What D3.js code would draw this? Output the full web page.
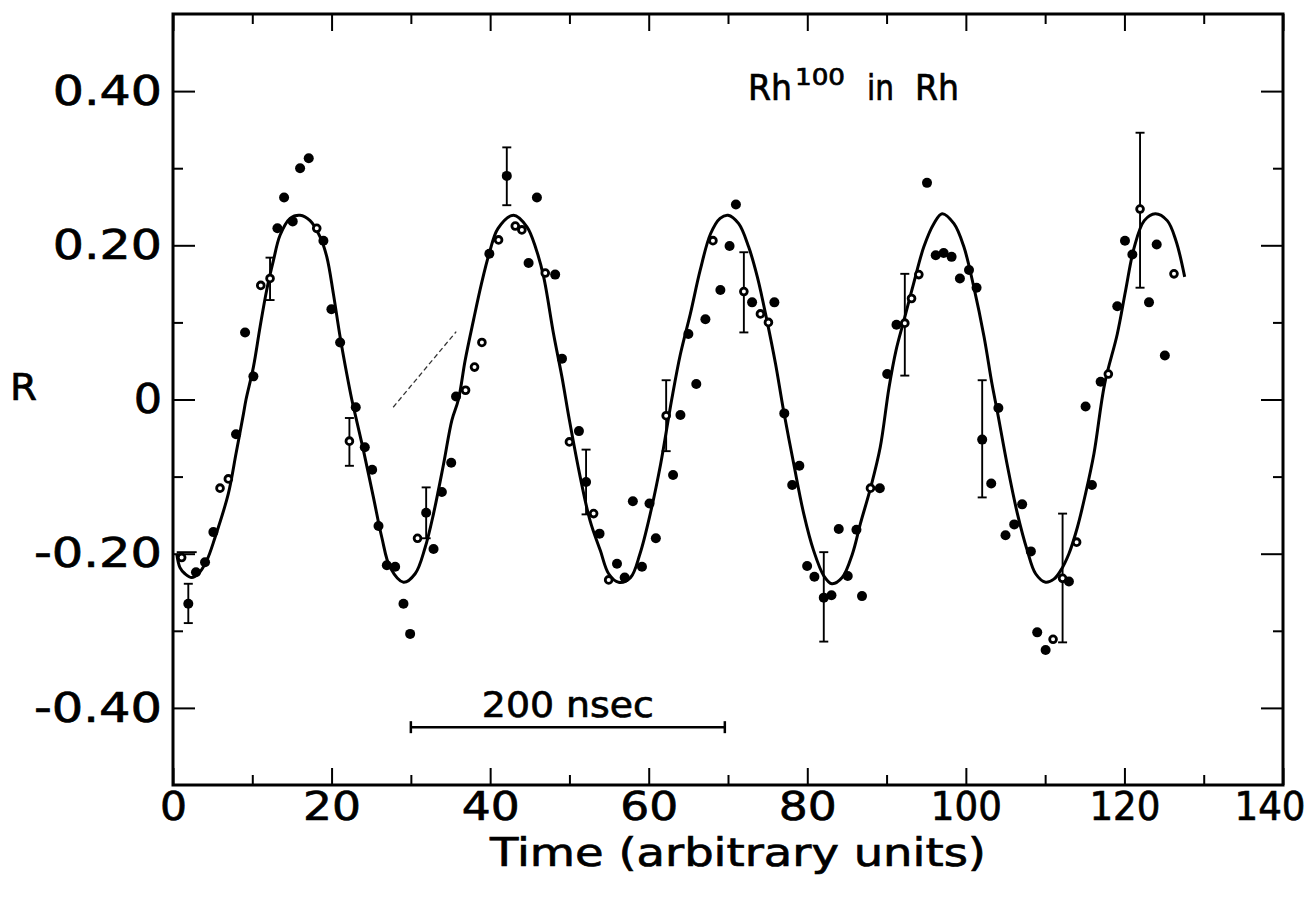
<!DOCTYPE html>
<html><head><meta charset="utf-8">
<script src="https://cdn.jsdelivr.net/npm/d3@7"></script>
<style>body{margin:0;background:#fff}</style>
</head><body><svg id="c" width="1310" height="897"></svg>
<script>
// ---- data ----
const timeValues = [1.09,1.93,2.9,4.04,5.09,5.93,6.98,7.95,9.09,10.14,11.07,12.24,13.17,14.01,15.1,16.03,17.12,18.13,18.97,19.98,
  21.08,22.25,23.05,24.19,25.12,25.92,26.97,28.02,29.07,29.91,30.84,31.93,32.86,33.91,35.09,35.7,36.9,38.03,38.96,39.9,
  41.06,42.1,43.17,44.0,44.85,45.9,46.95,48.2,49.06,50.0,51.2,52.1,53.05,53.8,54.95,56.0,56.97,58.0,59.15,60.1,
  60.9,62.2,63.07,64.0,65.0,66.0,67.15,68.1,69.04,70.2,71.0,72.0,73.04,74.09,75.1,75.85,77.1,78.1,79.0,79.98,
  80.9,82.08,83.05,83.97,85.1,86.2,86.9,87.97,89.15,90.08,91.25,92.3,93.15,94.07,95.1,96.2,97.2,98.2,99.25,100.4,
  101.35,102.06,103.2,104.1,105.0,106.1,107.1,108.2,109.0,110.06,111.0,112.2,113.0,113.97,115.1,115.9,117.0,117.97,119.1,120.07,
  121.0,121.97,123.1,124.07,125.1,126.25];
const rValues = [-0.205,-0.265,-0.224,-0.211,-0.172,-0.115,-0.103,-0.045,0.087,0.030,0.148,0.157,0.222,0.262,0.231,0.300,0.313,0.222,0.206,0.117,
  0.074,-0.054,-0.010,-0.062,-0.091,-0.164,-0.215,-0.217,-0.265,-0.304,-0.180,-0.147,-0.194,-0.120,-0.082,0.004,0.012,0.042,0.074,0.189,
  0.207,0.290,0.225,0.220,0.177,0.262,0.164,0.162,0.053,-0.055,-0.041,-0.107,-0.148,-0.174,-0.234,-0.213,-0.231,-0.132,-0.217,-0.135,
  -0.180,-0.021,-0.098,-0.020,0.085,0.020,0.104,0.206,0.142,0.199,0.253,0.140,0.126,0.111,0.100,0.126,-0.018,-0.111,-0.086,-0.216,
  -0.230,-0.257,-0.254,-0.168,-0.229,-0.169,-0.255,-0.115,-0.115,0.033,0.097,0.099,0.131,0.162,0.281,0.187,0.190,0.185,0.157,0.168,
  0.145,-0.052,-0.109,-0.011,-0.176,-0.162,-0.136,-0.197,-0.302,-0.325,-0.311,-0.232,-0.236,-0.185,-0.009,-0.111,0.023,0.033,0.121,0.206,
  0.188,0.247,0.126,0.201,0.057,0.163];
const openMarker = [1,0,0,0,0,1,1,0,0,0,1,1,0,0,0,0,0,1,0,0,
  0,1,0,0,0,0,0,0,0,0,1,0,0,0,0,0,1,1,1,0,
  1,0,1,1,0,0,1,0,0,1,0,0,1,0,1,0,0,0,0,0,
  0,1,0,0,0,0,0,1,0,0,0,1,0,1,1,0,0,0,0,0,
  0,0,0,0,0,0,0,1,0,0,0,1,1,1,0,0,0,0,0,0,
  0,0,0,0,0,0,0,0,0,0,1,1,0,1,0,0,0,1,0,0,
  0,1,0,0,0,1];
const errTime = [1.93,12.24,22.25,31.93,42.1,52.1,62.2,72.0,82.08,92.3,102.06,112.2,121.97];
const errLow  = [-0.290,0.129,-0.086,-0.180,0.252,-0.149,-0.067,0.087,-0.314,0.031,-0.127,-0.315,0.145];
const errHigh = [-0.239,0.184,-0.024,-0.114,0.327,-0.065,0.025,0.191,-0.198,0.163,0.025,-0.148,0.346];
const fitTime = [0.47,0.88,1.51,2.36,3.2,4.25,5.3,6.98,7.95,8.88,9.21,10.14,10.98,11.82,12.66,13.5,14.77,16.03,17.29,18.55,
  19.4,20.23,21.08,21.92,22.55,22.97,24.02,25.28,26.34,27.39,29.07,30.54,31.8,32.86,34.12,35.17,36.0,36.85,37.9,38.9,
  39.9,41.0,42.95,44.64,45.8,46.75,48.0,49.06,50.0,51.37,52.6,53.9,54.95,56.2,57.7,58.9,60.2,61.5,62.9,64.0,
  65.25,66.5,67.8,69.0,70.0,71.35,72.6,73.7,74.9,76.0,77.0,78.3,79.55,80.8,82.1,83.1,84.4,85.7,86.7,88.0,
  89.2,90.3,91.2,92.2,93.4,94.7,95.96,97.0,98.5,99.75,101.0,102.3,103.3,103.96,105.2,106.5,107.75,108.8,110.06,111.1,
  111.95,113.0,114.06,115.1,116.16,117.5,119.1,120.16,121.2,122.5,123.9,125.4,126.5,127.6];
const fitR = [-0.200,-0.218,-0.226,-0.231,-0.226,-0.209,-0.179,-0.122,-0.070,-0.019,0.000,0.042,0.094,0.142,0.180,0.213,0.235,0.239,0.232,0.211,
  0.185,0.137,0.081,0.033,0.000,-0.019,-0.066,-0.127,-0.179,-0.218,-0.237,-0.226,-0.192,-0.148,-0.084,-0.027,0.000,0.051,0.103,0.150,
  0.190,0.222,0.239,0.224,0.195,0.159,0.085,0.029,-0.027,-0.101,-0.157,-0.196,-0.226,-0.237,-0.231,-0.200,-0.148,-0.084,0.000,0.059,
  0.111,0.168,0.215,0.235,0.239,0.228,0.198,0.159,0.103,0.046,-0.014,-0.084,-0.148,-0.196,-0.229,-0.239,-0.231,-0.200,-0.161,-0.114,
  -0.062,0.015,0.064,0.103,0.150,0.198,0.228,0.241,0.228,0.198,0.146,0.081,0.020,-0.015,-0.084,-0.148,-0.196,-0.226,-0.237,-0.233,
  -0.222,-0.200,-0.166,-0.122,-0.070,0.020,0.085,0.142,0.196,0.232,0.241,0.232,0.206,0.159];
const xTickValues = [0,20,40,60,80,100,120,140];
const xTickLabels = ["0","20","40","60","80","100","120","140"];
const xMinorTicks = [10,30,50,70,90,110,130];
const yTickValues = [-0.4,-0.2,0,0.2,0.4];
const yTickLabels = ["-0.40","-0.20","0","0.20","0.40"];
const yMinorTicks = [-0.3,-0.1,0.1,0.3];
const xTitle = "Time (arbitrary units)";
const yTitle = "R";
const scaleBarStart = 30, scaleBarEnd = 69.6, scaleBarR = -0.425, scaleBarLabel = "200 nsec";
const strayMarkX = [27.77,35.72], strayMarkR = [-0.010,0.088];
const capMarkX = [0.47,2.99], capMarkR = -0.198;

// ---- drawing ----
const W = 1310, H = 897;
const L = 173, R = 1283, T = 14, B = 785;
const svg = d3.select("#c");
const font = "'DejaVu Sans', sans-serif";
const x = d3.scaleLinear().domain([0,140]).range([L,R]);
const y = d3.scaleLinear().domain([-0.5,0.5]).range([B,T]);

function glyphWidth(s, k){
  let w = 0;
  for (const ch of s){ w += ch==='1'?9:ch==='.'?11:ch==='-'?14:27; }
  return (w + 4*(s.length-1))*k;
}
function inkText(sel){ sel.attr("fill","#000").attr("stroke","#000").attr("stroke-width",0.7); }

function styleAxis(g){
  g.select(".domain").remove();
  g.selectAll(".tick line").attr("stroke","#000").attr("stroke-width",2);
}
// bottom
svg.append("g").attr("transform",`translate(0,${B})`)
  .call(d3.axisBottom(x).tickValues(xTickValues).tickSize(-17).tickPadding(7).tickFormat((d,i)=>xTickLabels[i]))
  .call(styleAxis)
  .call(g=>g.selectAll("text").attr("font-family",font).attr("font-size",39).call(inkText)
     .attr("textLength",d=>glyphWidth(xTickLabels[xTickValues.indexOf(d)],1))
     .attr("lengthAdjust","spacingAndGlyphs")
     .attr("dx",d=>{ const w=glyphWidth(xTickLabels[xTickValues.indexOf(d)],1); const over=x(d)+w/2-(W-5); return over>0?-over:0; }));
svg.append("g").attr("transform",`translate(0,${B})`)
  .call(d3.axisBottom(x).tickValues(xMinorTicks).tickSize(-10).tickFormat(""))
  .call(styleAxis);
// top
svg.append("g").attr("transform",`translate(0,${T})`)
  .call(d3.axisTop(x).tickValues(xTickValues).tickSize(-17).tickFormat("")).call(styleAxis);
svg.append("g").attr("transform",`translate(0,${T})`)
  .call(d3.axisTop(x).tickValues(xMinorTicks).tickSize(-10).tickFormat("")).call(styleAxis);
// left
svg.append("g").attr("transform",`translate(${L},0)`)
  .call(d3.axisLeft(y).tickValues(yTickValues).tickSize(-22).tickPadding(11).tickFormat((d,i)=>yTickLabels[i]))
  .call(styleAxis)
  .call(g=>g.selectAll("text").attr("font-family",font).attr("font-size",41).call(inkText)
     .attr("textLength",d=>glyphWidth(yTickLabels[yTickValues.indexOf(d)],1.05)).attr("lengthAdjust","spacingAndGlyphs"));
svg.append("g").attr("transform",`translate(${L},0)`)
  .call(d3.axisLeft(y).tickValues(yMinorTicks).tickSize(-10).tickFormat("")).call(styleAxis);
// right
svg.append("g").attr("transform",`translate(${R},0)`)
  .call(d3.axisRight(y).tickValues(yTickValues).tickSize(-22).tickFormat("")).call(styleAxis);
svg.append("g").attr("transform",`translate(${R},0)`)
  .call(d3.axisRight(y).tickValues(yMinorTicks).tickSize(-10).tickFormat("")).call(styleAxis);

// frame
svg.append("rect").attr("x",L).attr("y",T).attr("width",R-L).attr("height",B-T)
  .attr("fill","none").attr("stroke","#000").attr("stroke-width",3);

// fit curve
const line = d3.line().x(d=>x(d[0])).y(d=>y(d[1])).curve(d3.curveCatmullRom.alpha(0.5));
svg.append("path").datum(fitTime.map((t,i)=>[t,fitR[i]]))
  .attr("d",line).attr("fill","none").attr("stroke","#000").attr("stroke-width",3);

// error bars
const eb = svg.append("g").attr("stroke","#000").attr("stroke-width",1.9);
errTime.forEach((t,i)=>{
  eb.append("line").attr("x1",x(t)).attr("x2",x(t)).attr("y1",y(errLow[i])).attr("y2",y(errHigh[i]));
  eb.append("line").attr("x1",x(t)-4.5).attr("x2",x(t)+4.5).attr("y1",y(errLow[i])).attr("y2",y(errLow[i]));
  eb.append("line").attr("x1",x(t)-4.5).attr("x2",x(t)+4.5).attr("y1",y(errHigh[i])).attr("y2",y(errHigh[i]));
});
eb.append("line").attr("x1",x(capMarkX[0])).attr("x2",x(capMarkX[1])).attr("y1",y(capMarkR)).attr("y2",y(capMarkR));

// points
const pts = timeValues.map((t,i)=>({t, r:rValues[i], open:openMarker[i]}));
svg.append("g").selectAll("circle").data(pts).join("circle")
  .attr("cx",d=>x(d.t)).attr("cy",d=>y(d.r))
  .attr("r",d=>d.open?3.4:5)
  .attr("fill",d=>d.open?"#fff":"#000")
  .attr("stroke","#000").attr("stroke-width",d=>d.open?2.8:0);

// stray dashed mark
svg.append("line").attr("x1",x(strayMarkX[0])).attr("y1",y(strayMarkR[0]))
  .attr("x2",x(strayMarkX[1])).attr("y2",y(strayMarkR[1]))
  .attr("stroke","#333").attr("stroke-width",1.3).attr("stroke-dasharray","5,3");

// scale bar
const sb = svg.append("g").attr("stroke","#000").attr("stroke-width",2.5);
sb.append("line").attr("x1",x(scaleBarStart)).attr("x2",x(scaleBarEnd)).attr("y1",y(scaleBarR)).attr("y2",y(scaleBarR));
sb.append("line").attr("x1",x(scaleBarStart)).attr("x2",x(scaleBarStart)).attr("y1",y(scaleBarR)-6).attr("y2",y(scaleBarR)+6);
sb.append("line").attr("x1",x(scaleBarEnd)).attr("x2",x(scaleBarEnd)).attr("y1",y(scaleBarR)-6).attr("y2",y(scaleBarR)+6);
svg.append("text").attr("x",(x(scaleBarStart)+x(scaleBarEnd))/2).attr("y",y(scaleBarR)-10)
  .attr("text-anchor","middle").attr("font-family",font).attr("font-size",36).call(inkText)
  .attr("textLength",172).attr("lengthAdjust","spacingAndGlyphs").text(scaleBarLabel);

// axis titles
svg.append("text").attr("x",738).attr("y",866).attr("text-anchor","middle")
  .attr("font-family",font).attr("font-size",39).call(inkText).attr("textLength",496).attr("lengthAdjust","spacingAndGlyphs").text(xTitle);
svg.append("text").attr("x",10).attr("y",400)
  .attr("font-family",font).attr("font-size",38).call(inkText).attr("textLength",27).attr("lengthAdjust","spacingAndGlyphs").text(yTitle);

// annotation Rh^100 in Rh
const ann = svg.append("g").attr("font-family",font);
ann.append("text").attr("x",748).attr("y",100).attr("font-size",35).call(inkText).attr("textLength",44).attr("lengthAdjust","spacingAndGlyphs").text("Rh");
ann.append("text").attr("x",795).attr("y",85).attr("font-size",23).call(inkText).attr("textLength",50).attr("lengthAdjust","spacingAndGlyphs").text("100");
ann.append("text").attr("x",867).attr("y",100).attr("font-size",35).call(inkText).attr("textLength",27).attr("lengthAdjust","spacingAndGlyphs").text("in");
ann.append("text").attr("x",915).attr("y",100).attr("font-size",35).call(inkText).attr("textLength",44).attr("lengthAdjust","spacingAndGlyphs").text("Rh");
</script></body></html>
